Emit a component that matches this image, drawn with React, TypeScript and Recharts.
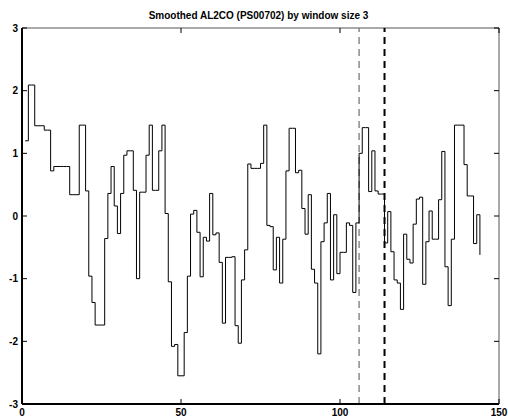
import { LineChart, Line, XAxis, YAxis, ReferenceLine } from 'recharts';

// smoothed AL2CO score per residue position (starting at 1)
const scores = [
  1.2, 2.09, 2.09, 1.44, 1.44, 1.44, 1.37, 1.37, 0.72, 0.79,
  0.79, 0.79, 0.79, 0.79, 0.34, 0.34, 0.34, 1.45, 1.45, 0.4,
  -0.96, -1.38, -1.74, -1.74, -1.74, -0.36, 0.36, 0.79, 0.16, -0.28,
  0.36, 0.97, 1.04, 1.04, 0.41, -1.0, 0.38, 0.38, 0.97, 1.45,
  0.41, 0.41, 1.04, 1.45, 0.04, -1.05, -2.08, -2.05, -2.55, -2.55,
  -1.86, -0.96, 0.03, 0.09, -0.26, -0.97, -0.34, -0.4, 0.36, -0.3,
  -0.27, -0.74, -1.71, -0.66, -0.66, -0.65, -1.75, -2.03, -1.02, -0.54,
  0.83, 0.76, 0.76, 0.76, 0.84, 1.45, -0.15, -0.17, -0.86, -0.34,
  -1.07, -0.37, 0.72, 1.4, 1.4, 0.69, 0.73, 0.12, -0.29, 0.34,
  -0.85, -1.07, -2.2, -0.41, -0.11, 0.36, -1.02, 0.02, -0.92, -0.58,
  -0.58, -0.11, -0.15, -1.22, -0.11, 1.0, 1.41, 1.41, 0.39, 1.04,
  0.4, 0.35, 0.35, -0.43, 0.07, -0.57, -1.02, -1.07, -1.49, -0.29,
  -0.69, -0.75, -0.13, 0.27, 0.3, -1.09, -0.41, 0.08, -0.37, -0.37,
  0.26, 1.03, -0.81, -1.43, -0.37, 1.45, 1.45, 1.45, 0.82, 0.32,
  0.32, -0.44, 0.02, -0.62,
];

const xTicks = [0, 50, 100, 150];
const yTicks = [-3, -2, -1, 0, 1, 2, 3];
const markerThin = 106;
const markerThick = 114;
const title = 'Smoothed AL2CO (PS00702) by window size 3';

const data = scores.map((v, i) => ({ pos: i + 1, score: v }));

const W = 508;
const H = 417;
const PLOT_W = 477;
const PLOT_H = 376;
const font = '"Liberation Sans", Arial, sans-serif';

//@ts-ignore
const XTick = ({ x, y, payload }) => (
  <g>
    <line x1={x} x2={x} y1={y} y2={y - 5} stroke="#000" />
    <line x1={x} x2={x} y1={y - PLOT_H} y2={y - PLOT_H + 5} stroke="#000" />
    <text x={x} y={y + 12} textAnchor="middle" fontSize={10} fontWeight="bold" fontFamily={font} fill="#000">
      {payload.value}
    </text>
  </g>
);

//@ts-ignore
const YTick = ({ x, y, payload }) => (
  <g>
    <line x1={x} x2={x + 5} y1={y} y2={y} stroke="#000" />
    <line x1={x + PLOT_W} x2={x + PLOT_W - 5} y1={y} y2={y} stroke="#000" />
    <text x={x - 4} y={y} dy="0.35em" textAnchor="end" fontSize={10} fontWeight="bold" fontFamily={font} fill="#000">
      {payload.value}
    </text>
  </g>
);

export default function App() {
  return (
    <div style={{ position: 'absolute', left: 0, top: 0, width: W, height: H, background: '#fff' }}>
      <div
        style={{
          position: 'absolute', left: 20, top: 10, width: PLOT_W, textAlign: 'center',
          fontFamily: font, fontSize: 10, fontWeight: 'bold', lineHeight: '12px', color: '#000',
        }}
      >
        {title}
      </div>
      <LineChart width={W} height={H} data={data} margin={{ top: 28, right: 9, bottom: 0, left: 0 }}>
        <XAxis
          dataKey="pos" type="number" domain={[0, 150]} ticks={xTicks} interval={0}
          height={13} tickSize={0} tickMargin={0} tickLine={false}
          axisLine={{ stroke: '#000', strokeWidth: 2 }} tick={XTick}
        />
        <YAxis
          type="number" domain={[-3, 3]} ticks={yTicks} interval={0}
          width={22} tickSize={0} tickMargin={0} tickLine={false}
          axisLine={{ stroke: '#000', strokeWidth: 2 }} tick={YTick}
        />
        <ReferenceLine y={3} stroke="#555" strokeWidth={1} />
        <ReferenceLine x={150} stroke="#555" strokeWidth={1} />
        <ReferenceLine x={markerThin} stroke="#777" strokeWidth={1.3} strokeDasharray="7 5" />
        <ReferenceLine x={markerThick} stroke="#000" strokeWidth={2} strokeDasharray="7 5" />
        <Line
          type="stepAfter" dataKey="score" stroke="#000" strokeWidth={1}
          dot={false} isAnimationActive={false}
        />
      </LineChart>
    </div>
  );
}
